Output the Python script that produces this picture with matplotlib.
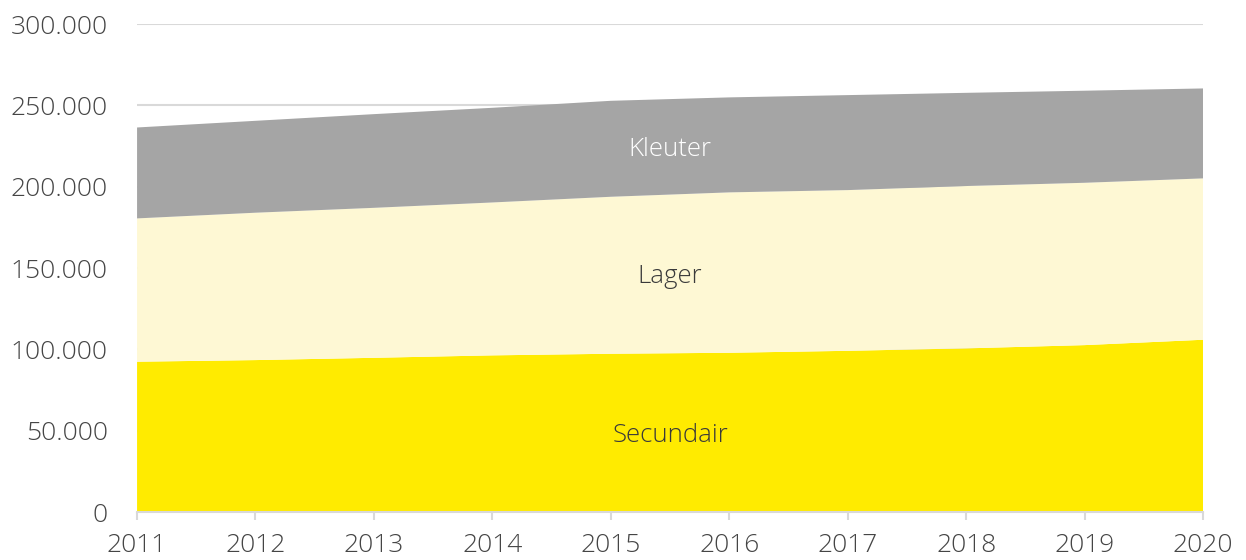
import numpy as np
import matplotlib
matplotlib.use("Agg")
import matplotlib.pyplot as plt
from matplotlib.ticker import FuncFormatter

years = [2011, 2012, 2013, 2014, 2015, 2016, 2017, 2018, 2019, 2020]
secundair = [92400, 93400, 94800, 96300, 97300, 97900, 99100, 100600, 102600, 105900]
lager = [88100, 90600, 92200, 94000, 96500, 98600, 98800, 99800, 99800, 99200]
kleuter = [55900, 56500, 57600, 58200, 59000, 58400, 58400, 57300, 56600, 55300]
labels = ["Secundair", "Lager", "Kleuter"]
fill_colors = ["#FFEB00", "#FEF8D4", "#A5A5A5"]
text_colors = ["#3a3a3a", "#3a3a3a", "#ffffff"]

plt.rcParams["font.family"] = ["Open Sans", "DejaVu Sans"]
plt.rcParams["font.weight"] = "light"

fig = plt.figure(figsize=(12.46, 5.6), dpi=100)
ax = fig.add_axes([0.11, 0.0857, 0.8555, 0.8714])

ax.stackplot(years, secundair, lager, kleuter, colors=fill_colors, linewidth=0, zorder=2)

# band labels, centred in each band
x_lab = 2015.5
lower = np.zeros(len(years))
for vals, name, tc in zip([secundair, lager, kleuter], labels, text_colors):
    upper = lower + np.array(vals, dtype=float)
    y_mid = (np.interp(x_lab, years, lower) + np.interp(x_lab, years, upper)) / 2
    ax.text(x_lab, y_mid, name, ha="center", va="center_baseline", fontsize=18.5,
            color=tc, zorder=3)
    lower = upper

ax.set_xlim(years[0], years[-1])
ax.set_ylim(0, 300000)
ax.set_yticks(np.arange(0, 300001, 50000))
ax.yaxis.set_major_formatter(FuncFormatter(lambda v, p: f"{int(v):,}".replace(",", ".")))
ax.set_xticks(years)

ax.grid(axis="y", color="#D9D9D9", lw=1.5, zorder=0)
ax.set_axisbelow(True)
for s in ["top", "right", "left"]:
    ax.spines[s].set_visible(False)
ax.spines["bottom"].set_color("#D9D9D9")
ax.spines["bottom"].set_linewidth(1.5)
ax.spines["bottom"].set_zorder(4)

ax.tick_params(axis="y", length=0, pad=21, labelsize=19, labelcolor="#454545")
ax.tick_params(axis="x", length=6, width=1.5, color="#D9D9D9", pad=9,
               labelsize=19, labelcolor="#454545")

fig.savefig("out.png", dpi=100)
